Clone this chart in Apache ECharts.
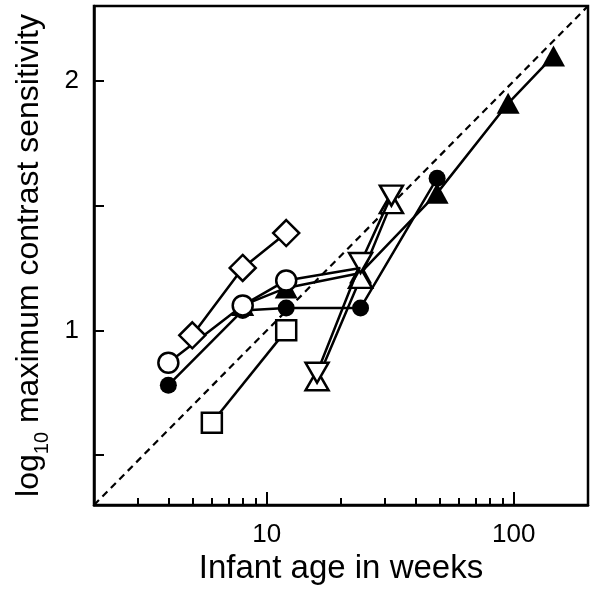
<!DOCTYPE html>
<html>
<head>
<meta charset="utf-8">
<script src="https://cdn.jsdelivr.net/npm/echarts@6/dist/echarts.min.js"></script>
<style>
html,body{margin:0;padding:0;background:#fff;}
#chart{width:598px;height:599px;}
</style>
</head>
<body>
<div id="chart"></div>
<script>
// ---- data ----
const xMajorTicks = [10, 100];
const xMinorTicks = [3, 4, 5, 6, 7, 8, 9, 20, 30, 40, 50, 60, 70, 80, 90];
const yTicks = [0.5, 1, 1.5, 2];
const yLabels = [1, 2];

const refAge = [2, 200];
const refCS = [0.3, 2.3];

const diamondAge = [5, 8, 12];
const diamondCS = [0.98, 1.25, 1.39];

const openCircleAge = [4, 8, 12, 24];
const openCircleCS = [0.87, 1.10, 1.20, 1.25];

const filledCircleAge = [4, 8, 12, 24, 49];
const filledCircleCS = [0.78, 1.08, 1.09, 1.09, 1.61];

const squareAge = [6, 12];
const squareCS = [0.63, 1.00];

const filledTriAge = [8, 12, 24, 49, 95, 145];
const filledTriCS = [1.10, 1.17, 1.23, 1.55, 1.91, 2.10];

const upTriAge = [16, 24, 32];
const upTriCS = [0.80, 1.21, 1.51];

const downTriAge = [16, 24, 32];
const downTriCS = [0.83, 1.27, 1.54];

// ---- chart ----
const FONT = 'Liberation Sans, Arial, sans-serif';
const pairs = (xs, ys) => xs.map((x, i) => [x, ys[i]]);
const LW = 2.5;

function mkSeries(xs, ys, symbol, size, filled, z, extra) {
  return Object.assign({
    type: 'line',
    data: pairs(xs, ys),
    symbol: symbol,
    symbolSize: size,
    showAllSymbol: true,
    z: z,
    lineStyle: { color: '#000', width: LW },
    itemStyle: { color: filled ? '#000' : '#fff', borderColor: '#000', borderWidth: filled ? 0 : LW },
    emphasis: { disabled: true },
    silent: true
  }, extra || {});
}

const openCircleData = pairs(openCircleAge, openCircleCS);
openCircleData[3] = { value: openCircleData[3], symbol: 'none' };

const chart = echarts.init(document.getElementById('chart'), null, { renderer: 'canvas' });
chart.setOption({
  animation: false,
  backgroundColor: '#fff',
  grid: { left: 94, right: 10, top: 6, bottom: 94, show: true, borderColor: '#000', borderWidth: LW, backgroundColor: 'transparent' },
  xAxis: [{
    type: 'log', logBase: 10, min: 2, max: 200,
    position: 'bottom',
    name: 'Infant age in weeks', nameLocation: 'middle', nameGap: 46,
    nameTextStyle: { fontFamily: FONT, fontSize: 33, color: '#000' },
    axisLine: { show: true, lineStyle: { color: '#000', width: LW } },
    axisTick: { show: true, inside: true, length: 13, lineStyle: { color: '#000', width: 2 }, customValues: xMajorTicks },
    axisLabel: { show: true, fontFamily: FONT, fontSize: 26, color: '#000', margin: 17, customValues: xMajorTicks },
    splitLine: { show: false }, minorTick: { show: false }
  }, {
    type: 'log', logBase: 10, min: 2, max: 200,
    position: 'bottom',
    axisLine: { show: false },
    axisTick: { show: true, inside: true, length: 7, lineStyle: { color: '#000', width: 2 }, customValues: xMinorTicks },
    axisLabel: { show: false },
    splitLine: { show: false }
  }],
  yAxis: {
    type: 'value', min: 0.3, max: 2.3,
    name: '{a|log}{b|10}{a| maximum contrast sensitivity}',
    nameLocation: 'middle', nameGap: 42,
    nameTextStyle: {
      color: '#000',
      rich: {
        a: { fontFamily: FONT, fontSize: 32, color: '#000', lineHeight: 32, verticalAlign: 'middle' },
        b: { fontFamily: FONT, fontSize: 20, color: '#000', lineHeight: 46, verticalAlign: 'bottom' }
      }
    },
    axisLine: { show: true, lineStyle: { color: '#000', width: LW } },
    axisTick: { show: true, inside: true, length: 10, lineStyle: { color: '#000', width: 2 }, customValues: yTicks },
    axisLabel: { show: true, fontFamily: FONT, fontSize: 26, color: '#000', margin: 15, customValues: yLabels },
    splitLine: { show: false }
  },
  series: [
    {
      type: 'line', data: pairs(refAge, refCS), symbol: 'none', z: 1, silent: true,
      lineStyle: { color: '#000', width: 2.2, type: [7, 5] }
    },
    mkSeries(filledTriAge, filledTriCS, 'triangle', [23, 21], true, 2),
    mkSeries(filledCircleAge, filledCircleCS, 'circle', 17, true, 3),
    mkSeries(squareAge, squareCS, 'rect', 20, false, 4),
    mkSeries(upTriAge, upTriCS, 'triangle', [23, 20], false, 5),
    mkSeries(downTriAge, downTriCS, 'triangle', [23, 20], false, 6, { symbolRotate: 180 }),
    Object.assign(mkSeries(openCircleAge, openCircleCS, 'circle', 20, false, 7), { data: openCircleData }),
    mkSeries(diamondAge, diamondCS, 'diamond', 26, false, 8)
  ]
});
</script>
</body>
</html>
